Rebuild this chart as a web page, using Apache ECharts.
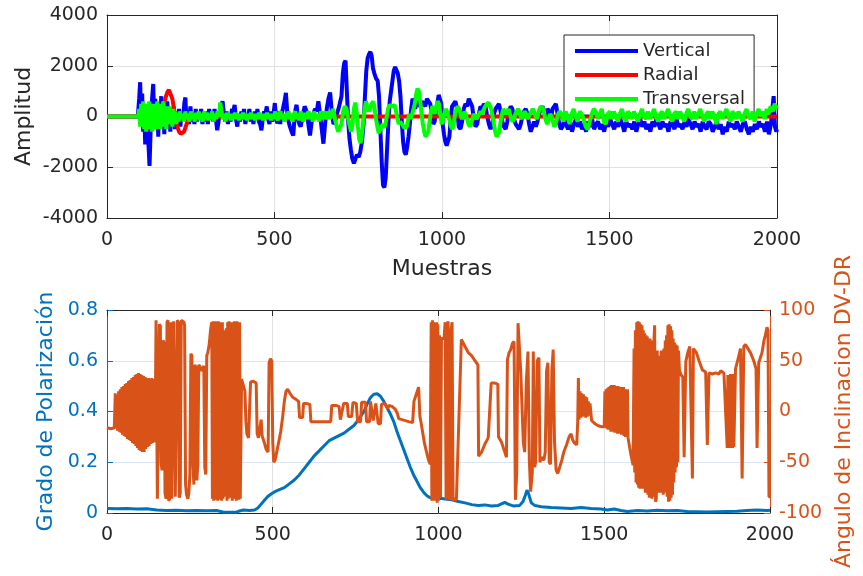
<!DOCTYPE html>
<html>
<head>
<meta charset="utf-8">
<script src="https://cdn.jsdelivr.net/npm/echarts@6/dist/echarts.min.js"></script>
<style>
html,body{margin:0;padding:0;background:#fff}
#chart{width:863px;height:576px}
</style>
</head>
<body>
<div id="chart"></div>
<script>
// Three-component seismic record: [sample, amplitude]
const traceNames = ['Vertical', 'Radial', 'Transversal'];

const verticalTrace = [[0,0],[92,0],[96,700],[99,1350],[102,-300],[105,900],[108,-600],[111,400],[114,-1100],[117,200],[120,-300],[123,-900],[127,-1950],[131,-200],[134,600],[138,1280],[141,-200],[144,700],[147,-400],[150,300],[153,-800],[156,500],[159,-200],[162,800],[165,-300],[168,400],[171,-700],[174,300],[177,-200],[180,600],[183,-400],[186,100],[189,-600],[192,300],[195,-200],[199,400],[203,-500],[207,200],[211,-300],[215,300],[219,-400],[223,200],[227,-100],[231,550],[234,750],[237,-100],[241,200],[245,-300],[249,400],[253,-200],[257,100],[261,-300],[265,300],[269,-200],[273,200],[277,-100],[281,300],[285,-300],[289,100],[293,-200],[297,200],[301,-300],[305,300],[309,-100],[313,200],[317,-200],[321,300],[325,-100],[329,-540],[333,-200],[337,200],[341,400],[345,600],[349,100],[353,-200],[357,200],[361,-300],[365,100],[369,-200],[373,300],[377,200],[381,460],[385,-100],[389,-400],[393,100],[397,-200],[401,200],[405,-100],[409,300],[413,-300],[417,100],[421,-100],[425,300],[429,-200],[433,100],[437,-300],[441,200],[445,-100],[449,300],[453,-200],[457,-300],[461,-540],[465,-100],[469,200],[473,100],[477,400],[481,-100],[485,-300],[489,200],[493,-200],[497,100],[501,530],[505,-100],[509,-270],[513,200],[517,-300],[521,100],[525,300],[530,600],[534,930],[538,200],[542,-200],[546,-400],[551,-600],[556,-750],[560,0],[563,300],[566,460],[570,-100],[574,-300],[578,-400],[581,-200],[585,100],[590,400],[596,200],[601,-300],[606,-750],[611,-200],[616,100],[621,300],[626,200],[631,600],[636,100],[641,-500],[646,-1070],[651,-300],[656,300],[661,700],[666,950],[671,200],[676,-300],[681,-200],[686,100],[691,300],[696,250],[700,800],[704,1700],[708,2100],[712,2200],[716,1000],[720,-200],[724,-900],[728,-1300],[732,-1650],[737,-1850],[741,-1800],[746,-1500],[751,-1600],[756,-1400],[761,-1000],[766,-300],[770,800],[774,1800],[778,2300],[782,2450],[786,2550],[790,2400],[794,1900],[798,1700],[803,1500],[808,1400],[812,800],[816,-500],[820,-1800],[824,-2700],[828,-2800],[832,-2400],[836,-1300],[840,-200],[844,600],[848,1000],[852,1400],[856,1800],[860,1950],[864,1900],[868,1700],[872,1400],[876,800],[880,-200],[884,-1000],[888,-1400],[892,-1500],[896,-1200],[900,-800],[904,-300],[908,300],[912,700],[916,600],[920,300],[925,600],[930,500],[935,400],[940,600],[945,500],[950,400],[955,700],[960,600],[965,500],[970,100],[974,-300],[978,-200],[982,200],[986,500],[990,850],[994,870],[998,500],[1002,-300],[1006,-700],[1010,-1000],[1014,-1150],[1018,-1200],[1022,-800],[1026,-100],[1030,400],[1035,500],[1040,600],[1045,300],[1050,-400],[1055,-500],[1060,-200],[1065,300],[1070,500],[1075,400],[1080,700],[1085,650],[1090,400],[1095,-100],[1100,-400],[1105,-300],[1110,100],[1115,400],[1120,300],[1125,500],[1130,400],[1135,0],[1140,-300],[1145,-500],[1150,-300],[1155,100],[1160,300],[1165,400],[1170,500],[1175,200],[1180,-200],[1185,-400],[1190,-500],[1195,-200],[1200,200],[1205,400],[1210,300],[1215,-100],[1220,-300],[1225,-400],[1230,-500],[1235,-300],[1240,0],[1245,200],[1250,300],[1255,100],[1260,-300],[1265,-600],[1270,-400],[1275,-200],[1280,-400],[1285,-200],[1290,100],[1295,300],[1300,400],[1305,200],[1310,0],[1315,300],[1320,200],[1325,-100],[1330,300],[1335,400],[1340,500],[1345,100],[1350,-300],[1355,-500],[1360,-400],[1365,-100],[1370,-300],[1376,-500],[1382,-200],[1388,-600],[1394,-300],[1400,-100],[1406,-400],[1412,-200],[1418,-500],[1424,-300],[1430,-600],[1436,-200],[1442,-400],[1448,-100],[1454,-500],[1460,-300],[1466,-200],[1472,-500],[1478,-300],[1484,-600],[1490,-200],[1496,-400],[1502,-100],[1508,-300],[1514,-500],[1520,-200],[1526,-400],[1532,-100],[1538,-300],[1544,-600],[1550,-200],[1556,-400],[1562,-300],[1568,-500],[1574,-200],[1580,-600],[1586,-300],[1592,-100],[1598,-400],[1604,-200],[1610,-500],[1616,-300],[1622,-600],[1628,-200],[1634,-400],[1640,-100],[1646,-300],[1652,-500],[1658,-200],[1664,-400],[1670,-300],[1676,-600],[1682,-200],[1688,-300],[1694,-500],[1700,-100],[1706,-400],[1712,-300],[1718,-500],[1724,-200],[1730,-400],[1736,-100],[1742,-300],[1748,-500],[1754,-200],[1760,-400],[1766,-300],[1772,-600],[1778,-200],[1784,-400],[1790,-500],[1796,-200],[1802,-300],[1808,-600],[1814,-400],[1820,-200],[1826,-500],[1832,-300],[1838,-700],[1844,-400],[1850,-600],[1856,-200],[1862,-400],[1868,-300],[1874,-500],[1880,-200],[1886,-400],[1892,-600],[1898,-300],[1904,-200],[1910,-500],[1916,-700],[1922,-400],[1928,-600],[1934,-300],[1940,-500],[1946,-200],[1952,-400],[1958,-300],[1964,-600],[1970,-200],[1976,-700],[1982,-300],[1986,300],[1990,800],[1994,-400],[1998,-600],[2000,-500]];

const radialTrace = [[0,0],[92,0],[96,100],[100,-100],[105,150],[110,-100],[115,100],[120,-150],[125,100],[130,-100],[135,200],[140,-100],[145,150],[150,0],[155,100],[160,200],[165,300],[170,500],[175,750],[180,950],[185,1050],[190,1000],[195,700],[200,300],[205,-100],[210,-400],[215,-600],[220,-680],[225,-700],[230,-600],[235,-400],[240,-200],[245,-50],[250,0],[260,50],[280,-30],[300,20],[340,-20],[400,20],[460,-20],[520,10],[600,-10],[700,0],[800,0],[900,0],[1000,0],[1010,30],[1020,0],[1040,0],[1200,0],[1400,0],[1600,0],[1800,0],[2000,0]];

const transversalTrace = [[0,0],[93,0],[96,300],[99,-400],[102,500],[105,-300],[108,600],[111,-500],[114,400],[117,-600],[120,500],[123,-200],[126,600],[129,-500],[132,300],[135,-600],[138,500],[141,-300],[144,400],[147,-500],[150,600],[153,-200],[156,300],[159,-500],[162,500],[165,-400],[168,600],[171,-300],[174,400],[177,-500],[180,300],[183,-200],[186,400],[189,-300],[192,200],[195,-400],[198,300],[201,-200],[204,200],[207,-300],[210,100],[214,-200],[218,200],[222,-100],[226,100],[230,-200],[234,200],[238,-100],[242,100],[246,-200],[250,200],[254,-100],[258,100],[262,-200],[266,150],[270,-100],[274,200],[278,-150],[282,100],[286,-200],[290,200],[294,-100],[298,150],[302,-150],[306,100],[310,-100],[314,200],[318,-200],[322,100],[326,-100],[330,200],[334,0],[338,550],[342,200],[346,-100],[350,100],[354,-200],[358,150],[362,-100],[366,100],[370,-150],[374,100],[378,-100],[382,150],[386,-100],[390,100],[394,-150],[398,100],[402,-100],[406,150],[410,-100],[414,100],[418,-150],[422,100],[426,-100],[430,150],[434,-100],[438,100],[442,-150],[446,100],[450,-100],[454,150],[458,-100],[462,100],[466,-150],[470,100],[474,-100],[478,150],[482,-100],[486,100],[490,-150],[494,100],[498,-100],[502,200],[506,0],[510,-150],[514,100],[518,200],[522,-100],[526,100],[530,-200],[534,100],[538,0],[542,200],[546,-100],[550,100],[554,-200],[558,100],[562,200],[566,-100],[570,100],[574,-150],[578,200],[582,0],[586,-200],[590,150],[594,-100],[598,100],[602,200],[606,-100],[610,100],[614,-200],[618,200],[622,0],[626,-100],[630,100],[634,-200],[638,200],[642,100],[646,-100],[650,200],[654,-100],[658,0],[662,200],[666,-100],[670,100],[674,300],[678,100],[682,-200],[686,-400],[690,-600],[695,-670],[700,-300],[705,200],[710,400],[715,300],[720,-100],[725,-400],[729,-600],[733,-300],[737,300],[741,550],[745,200],[749,-400],[753,-900],[757,-1050],[761,-700],[765,-200],[769,300],[773,600],[777,550],[781,200],[785,300],[790,500],[795,600],[799,300],[803,-100],[807,-400],[811,-650],[815,-650],[819,-400],[823,-300],[827,-450],[831,-300],[835,0],[839,300],[843,450],[847,500],[851,400],[855,350],[859,450],[863,200],[867,-100],[871,-300],[875,-200],[879,-250],[883,-350],[887,-450],[891,-500],[895,-400],[899,-100],[903,100],[907,-100],[911,100],[915,300],[919,500],[923,900],[927,1100],[931,1000],[935,600],[939,100],[943,-300],[947,-600],[951,-800],[955,-750],[959,-600],[963,-200],[967,200],[971,400],[975,300],[979,100],[983,400],[987,600],[991,500],[995,100],[999,-300],[1003,-200],[1007,100],[1011,300],[1015,200],[1019,0],[1023,-150],[1027,-400],[1031,-500],[1035,-300],[1039,100],[1043,300],[1047,400],[1051,300],[1055,100],[1059,-100],[1063,0],[1067,200],[1071,150],[1075,-100],[1079,-300],[1083,-400],[1087,-300],[1091,-100],[1095,100],[1099,50],[1103,-100],[1107,0],[1111,100],[1115,200],[1119,100],[1123,200],[1127,350],[1131,450],[1135,500],[1139,550],[1143,500],[1147,300],[1151,0],[1155,-300],[1159,-600],[1163,-800],[1167,-850],[1171,-600],[1175,-200],[1179,100],[1183,300],[1187,250],[1191,100],[1195,200],[1199,300],[1203,100],[1207,-100],[1211,-200],[1215,-100],[1219,100],[1223,200],[1227,300],[1231,200],[1235,0],[1239,-100],[1243,100],[1247,200],[1251,100],[1255,-100],[1259,0],[1263,100],[1267,200],[1271,300],[1275,200],[1279,0],[1283,-100],[1287,100],[1291,300],[1295,400],[1299,450],[1303,300],[1307,0],[1311,-200],[1315,-300],[1319,-100],[1323,100],[1327,0],[1331,-200],[1335,-400],[1339,-300],[1343,-100],[1347,100],[1351,200],[1357,100],[1363,-200],[1369,200],[1375,0],[1381,-300],[1387,100],[1393,300],[1399,0],[1405,-200],[1411,200],[1417,100],[1423,-100],[1429,-400],[1435,-500],[1441,-200],[1447,100],[1453,300],[1459,200],[1465,-100],[1471,100],[1477,300],[1483,-200],[1489,-300],[1495,100],[1501,200],[1507,-100],[1513,200],[1519,0],[1525,-200],[1531,100],[1537,300],[1543,0],[1549,-200],[1555,200],[1561,100],[1567,-100],[1573,200],[1579,0],[1585,-200],[1591,100],[1597,300],[1603,0],[1609,-100],[1615,200],[1621,-100],[1627,100],[1633,300],[1639,0],[1645,-200],[1651,100],[1657,200],[1663,-100],[1669,100],[1675,300],[1681,0],[1687,-200],[1693,100],[1699,200],[1705,-100],[1711,200],[1717,0],[1723,-200],[1729,100],[1735,300],[1741,0],[1747,-100],[1753,200],[1759,-100],[1765,100],[1771,300],[1777,0],[1783,-200],[1789,100],[1795,200],[1801,-100],[1807,200],[1813,0],[1819,-300],[1825,100],[1831,200],[1837,-100],[1843,100],[1849,300],[1855,0],[1861,-200],[1867,200],[1873,100],[1879,-100],[1885,200],[1891,0],[1897,-200],[1903,100],[1909,300],[1915,0],[1921,-100],[1927,200],[1933,-200],[1939,100],[1945,300],[1951,0],[1957,200],[1963,-100],[1969,300],[1975,100],[1981,400],[1987,200],[1993,500],[2000,300]];

// Degree of polarization: [sample, value]
const polarizationDegree = [[0,0.018],[30,0.017],[60,0.018],[90,0.016],[120,0.017],[150,0.012],[180,0.010],[210,0.011],[240,0.009],[270,0.010],[300,0.009],[330,0.010],[350,0.004],[370,0.003],[390,0.003],[400,0.008],[412,0.012],[430,0.010],[445,0.012],[455,0.020],[465,0.035],[475,0.050],[485,0.065],[495,0.075],[505,0.083],[520,0.092],[535,0.100],[550,0.115],[565,0.130],[580,0.150],[595,0.175],[610,0.200],[625,0.225],[640,0.245],[655,0.265],[670,0.285],[685,0.295],[700,0.305],[715,0.315],[730,0.330],[745,0.345],[760,0.370],[775,0.400],[785,0.430],[795,0.455],[805,0.468],[815,0.470],[825,0.460],[835,0.440],[845,0.415],[855,0.390],[865,0.360],[875,0.320],[885,0.285],[895,0.250],[905,0.215],[915,0.180],[925,0.150],[935,0.125],[945,0.100],[955,0.082],[965,0.068],[975,0.060],[990,0.057],[1005,0.058],[1020,0.055],[1040,0.052],[1060,0.045],[1080,0.040],[1100,0.033],[1120,0.030],[1140,0.032],[1160,0.028],[1180,0.030],[1200,0.042],[1210,0.035],[1225,0.028],[1245,0.030],[1255,0.045],[1262,0.070],[1267,0.090],[1272,0.075],[1280,0.040],[1290,0.030],[1310,0.025],[1340,0.022],[1370,0.020],[1400,0.018],[1430,0.022],[1460,0.018],[1490,0.016],[1510,0.012],[1530,0.016],[1550,0.010],[1570,0.006],[1600,0.010],[1630,0.008],[1660,0.011],[1690,0.009],[1720,0.010],[1750,0.006],[1780,0.005],[1810,0.004],[1840,0.005],[1870,0.006],[1900,0.007],[1930,0.010],[1960,0.012],[1990,0.010],[2000,0.011]];

// Vertical-radial inclination angle (degrees): [sample, angle]
const inclinationAngle = [[0,-16],[12,-17],[22,-16],[25,18],[27,-17],[30,16],[32,-19],[35,20],[37,-20],[40,22],[42,-21],[45,24],[47,-23],[50,25],[52,-24],[55,27],[57,-25],[60,28],[62,-27],[65,30],[67,-28],[70,31],[72,-29],[75,33],[77,-31],[80,34],[82,-32],[85,36],[87,-34],[90,37],[92,-36],[95,38],[97,-38],[100,37],[102,-39],[105,36],[107,-40],[110,35],[112,-40],[115,34],[117,-37],[120,33],[122,-35],[125,33],[127,-34],[130,32],[132,-32],[135,33],[137,-31],[140,32],[142,-30],[145,-28],[148,90],[150,89],[152,-86],[155,-85],[158,86],[161,84],[163,-50],[166,-58],[169,70],[172,68],[175,-80],[178,-86],[181,88],[184,90],[186,-88],[189,-86],[192,88],[195,-86],[198,-85],[201,89],[204,88],[206,-84],[209,-83],[212,90],[215,88],[218,-85],[221,-80],[224,90],[228,90],[232,88],[234,85],[237,-72],[240,-82],[244,-86],[247,-80],[250,-62],[253,57],[256,55],[259,-50],[262,-72],[265,46],[268,44],[271,-68],[274,-52],[277,46],[281,44],[285,40],[289,42],[292,45],[295,-55],[298,-62],[301,55],[304,58],[307,63],[310,72],[313,82],[316,88],[318,-86],[320,89],[322,-88],[324,88],[326,-87],[328,89],[330,-86],[332,87],[334,-88],[336,89],[338,-87],[340,88],[342,-85],[344,86],[346,-88],[348,88],[350,-86],[352,80],[354,-84],[356,76],[358,-82],[360,82],[362,-88],[364,88],[366,-86],[368,89],[370,-80],[372,88],[374,-85],[376,87],[378,-88],[380,88],[382,-84],[384,89],[386,-86],[388,87],[390,-88],[392,89],[394,-85],[396,88],[398,-87],[400,88],[402,-86],[406,32],[412,31],[416,20],[419,-10],[422,-22],[427,-26],[431,-25],[433,29],[440,30],[446,29],[450,28],[453,-22],[457,-26],[462,-25],[465,-8],[468,-24],[474,-30],[480,-37],[486,-40],[489,48],[493,52],[497,50],[500,-30],[503,-50],[507,-48],[512,-40],[518,-30],[524,-20],[530,-5],[535,10],[540,20],[545,22],[552,18],[560,14],[570,12],[578,10],[581,-6],[590,-6],[593,8],[600,8],[612,7],[615,-10],[630,-10],[645,-10],[660,-10],[675,-10],[678,6],[690,6],[700,5],[704,-8],[710,-8],[714,8],[725,8],[728,-5],[738,-5],[742,9],[752,8],[756,-10],[765,-10],[768,9],[780,9],[783,-10],[792,-10],[795,10],[800,10],[803,-9],[808,-9],[811,8],[815,8],[818,-12],[825,-12],[828,7],[838,8],[842,7],[847,3],[850,6],[860,5],[870,2],[876,-2],[880,-7],[890,-8],[900,-9],[910,-10],[922,-11],[926,10],[934,18],[940,24],[944,-5],[948,-12],[952,-20],[958,-32],[964,-40],[970,-48],[975,-52],[978,88],[980,-88],[982,90],[984,-85],[986,88],[988,-88],[990,84],[992,-88],[994,88],[996,-90],[998,86],[1000,-88],[1003,75],[1006,-85],[1009,72],[1013,72],[1017,72],[1020,88],[1023,-87],[1026,75],[1029,89],[1032,-85],[1035,-87],[1038,80],[1041,88],[1044,-88],[1047,-86],[1054,-87],[1069,71],[1080,64],[1090,58],[1100,55],[1110,50],[1119,46],[1121,-44],[1130,-40],[1140,-32],[1150,-26],[1155,-25],[1159,28],[1170,28],[1179,27],[1181,-25],[1190,-30],[1200,-40],[1205,-45],[1208,51],[1213,58],[1218,61],[1223,67],[1228,69],[1232,-87],[1236,-60],[1240,87],[1243,88],[1248,40],[1253,41],[1256,-31],[1260,-40],[1265,30],[1270,59],[1274,-48],[1278,-79],[1283,-60],[1286,59],[1290,-55],[1293,-50],[1298,50],[1303,53],[1306,-50],[1310,-45],[1318,-48],[1322,-40],[1326,40],[1330,48],[1334,-50],[1338,-52],[1342,40],[1346,61],[1350,-30],[1355,-58],[1360,-61],[1366,-60],[1372,-48],[1378,-40],[1386,-33],[1394,-25],[1400,-22],[1405,-28],[1410,-31],[1417,-33],[1420,-10],[1422,33],[1424,-8],[1427,20],[1429,-6],[1432,18],[1434,-5],[1437,17],[1439,-4],[1442,15],[1444,-6],[1447,14],[1449,-5],[1452,10],[1454,-4],[1457,8],[1462,-9],[1472,-12],[1482,-14],[1492,-15],[1500,-15],[1502,20],[1504,-16],[1506,22],[1508,-17],[1510,23],[1512,-18],[1514,24],[1516,-18],[1518,25],[1520,-20],[1522,26],[1524,-19],[1526,25],[1528,-20],[1530,26],[1532,-21],[1534,25],[1536,-20],[1538,24],[1540,-22],[1542,25],[1544,-21],[1546,23],[1548,-22],[1550,24],[1552,-23],[1554,22],[1556,-22],[1558,24],[1560,-24],[1562,22],[1564,-25],[1566,20],[1568,-24],[1570,22],[1572,-26],[1577,-36],[1582,-45],[1587,-53],[1590,62],[1592,-60],[1594,80],[1596,-70],[1598,88],[1600,-72],[1602,89],[1604,-75],[1606,88],[1608,-76],[1610,86],[1612,-70],[1614,85],[1616,-76],[1618,80],[1620,-72],[1622,77],[1624,-80],[1626,75],[1628,-75],[1630,74],[1632,-82],[1634,72],[1636,-85],[1638,72],[1640,-80],[1642,70],[1644,-86],[1646,65],[1648,-84],[1650,70],[1652,85],[1655,-89],[1657,-86],[1660,60],[1662,-80],[1664,50],[1666,-75],[1668,55],[1670,-80],[1672,60],[1674,-70],[1676,58],[1678,-82],[1680,62],[1682,-76],[1684,70],[1686,-80],[1688,75],[1690,-84],[1692,85],[1694,-89],[1696,86],[1698,-88],[1700,84],[1702,-85],[1704,80],[1706,-82],[1708,72],[1710,-70],[1712,68],[1714,-60],[1716,66],[1718,-55],[1720,65],[1722,-50],[1724,60],[1727,40],[1732,36],[1737,34],[1741,-45],[1746,49],[1752,58],[1758,64],[1763,65],[1766,-66],[1769,62],[1773,63],[1778,58],[1786,50],[1796,41],[1806,39],[1811,-33],[1816,38],[1826,37],[1836,38],[1846,37],[1851,40],[1861,38],[1866,37],[1871,-36],[1873,36],[1875,-35],[1877,36],[1879,-36],[1881,37],[1883,-35],[1885,36],[1887,-36],[1889,37],[1891,-35],[1896,42],[1904,52],[1911,62],[1916,-66],[1921,64],[1926,66],[1931,65],[1941,58],[1951,50],[1958,42],[1961,-36],[1966,48],[1976,58],[1982,70],[1986,75],[1991,83],[1994,80],[1997,-84],[2000,-84]];

const FONT = 'DejaVu Sans';
const INK = '#262626';
const GRID_GRAY = '#e1e1e1';
const POL_BLUE = '#0072BD';
const ANG_ORANGE = '#D95319';

// plain tick text, no thousands separators
const plainNumber = v => String(Math.round(v * 1000) / 1000);

const chart = echarts.init(document.getElementById('chart'), null, {renderer: 'canvas'});

function frameAxis(extra) {
  return Object.assign({
    type: 'value',
    axisLine: {show: true, onZero: false, lineStyle: {color: INK, width: 1}},
    axisTick: {show: true, inside: true, length: 6, lineStyle: {color: INK}},
    axisLabel: {show: false},
    splitLine: {show: false}
  }, extra);
}

function tickText(color, margin) {
  return {show: true, color: color, fontSize: 19, fontFamily: FONT, margin: margin, formatter: plainNumber};
}

const option = {
  animation: false,
  backgroundColor: '#ffffff',
  textStyle: {fontFamily: FONT},
  grid: [
    {left: 107, top: 15, width: 670, height: 203},
    {left: 107, top: 310, width: 670, height: 203}
  ],
  legend: {
    data: traceNames,
    orient: 'vertical',
    left: 564,
    top: 35,
    icon: 'rect',
    itemWidth: 63,
    itemHeight: 4,
    itemGap: 6,
    padding: [7, 9, 7, 11],
    backgroundColor: '#ffffff',
    borderColor: INK,
    borderWidth: 1,
    textStyle: {fontFamily: FONT, fontSize: 18, color: INK}
  },
  xAxis: [
    frameAxis({
      gridIndex: 0, position: 'bottom', min: 0, max: 2000, interval: 500,
      axisLabel: tickText(INK, 13),
      splitLine: {show: true, lineStyle: {color: GRID_GRAY, width: 1}},
      name: 'Muestras', nameLocation: 'middle', nameGap: 40,
      nameTextStyle: {color: INK, fontSize: 22, fontFamily: FONT}
    }),
    frameAxis({gridIndex: 0, position: 'top', min: 0, max: 2000, interval: 500}),
    frameAxis({
      gridIndex: 1, position: 'bottom', min: 0, max: 2000, interval: 500,
      axisLabel: tickText(INK, 13),
      splitLine: {show: true, lineStyle: {color: GRID_GRAY, width: 1}}
    }),
    frameAxis({gridIndex: 1, position: 'top', min: 0, max: 2000, interval: 500})
  ],
  yAxis: [
    frameAxis({
      gridIndex: 0, position: 'left', min: -4000, max: 4000, interval: 2000,
      axisLabel: tickText(INK, 9),
      splitLine: {show: true, lineStyle: {color: GRID_GRAY, width: 1}},
      name: 'Amplitud', nameLocation: 'middle', nameGap: 72, nameMoveOverlap: false,
      nameTextStyle: {color: INK, fontSize: 22, fontFamily: FONT}
    }),
    frameAxis({gridIndex: 0, position: 'right', min: -4000, max: 4000, interval: 2000}),
    frameAxis({
      gridIndex: 1, position: 'left', min: 0, max: 0.8, interval: 0.2,
      axisLine: {show: true, onZero: false, lineStyle: {color: POL_BLUE, width: 1}},
      axisTick: {show: true, inside: true, length: 6, lineStyle: {color: POL_BLUE}},
      axisLabel: tickText(POL_BLUE, 9),
      splitLine: {show: true, lineStyle: {color: '#dbe8f3', width: 1}},
      name: 'Grado de Polarización', nameLocation: 'middle', nameGap: 50,
      nameTextStyle: {color: POL_BLUE, fontSize: 22, fontFamily: FONT}
    }),
    frameAxis({
      gridIndex: 1, position: 'right', min: -100, max: 100, interval: 50,
      axisLine: {show: true, onZero: false, lineStyle: {color: ANG_ORANGE, width: 1}},
      axisTick: {show: true, inside: true, length: 6, lineStyle: {color: ANG_ORANGE}},
      axisLabel: tickText(ANG_ORANGE, 9),
      name: 'Ángulo de Inclinacion DV-DR', nameLocation: 'middle', nameGap: 60,
      nameTextStyle: {color: ANG_ORANGE, fontSize: 22, fontFamily: FONT}
    })
  ],
  series: [
    {name: 'Vertical', type: 'line', xAxisIndex: 0, yAxisIndex: 0, data: verticalTrace,
     symbol: 'none', color: '#0000ff', lineStyle: {width: 4, color: '#0000ff'}, z: 2},
    {name: 'Radial', type: 'line', xAxisIndex: 0, yAxisIndex: 0, data: radialTrace,
     symbol: 'none', color: '#ff0000', lineStyle: {width: 4, color: '#ff0000'}, z: 3},
    {name: 'Transversal', type: 'line', xAxisIndex: 0, yAxisIndex: 0, data: transversalTrace,
     symbol: 'none', color: '#00ff00', lineStyle: {width: 4, color: '#00ff00'}, z: 4},
    {name: 'Grado de Polarización', type: 'line', xAxisIndex: 2, yAxisIndex: 2, data: polarizationDegree,
     symbol: 'none', color: POL_BLUE, lineStyle: {width: 3, color: POL_BLUE}, z: 2},
    {name: 'Ángulo de Inclinacion DV-DR', type: 'line', xAxisIndex: 2, yAxisIndex: 3, data: inclinationAngle,
     symbol: 'none', color: ANG_ORANGE, lineStyle: {width: 3, color: ANG_ORANGE}, z: 3}
  ]
};

chart.setOption(option);
</script>
</body>
</html>
